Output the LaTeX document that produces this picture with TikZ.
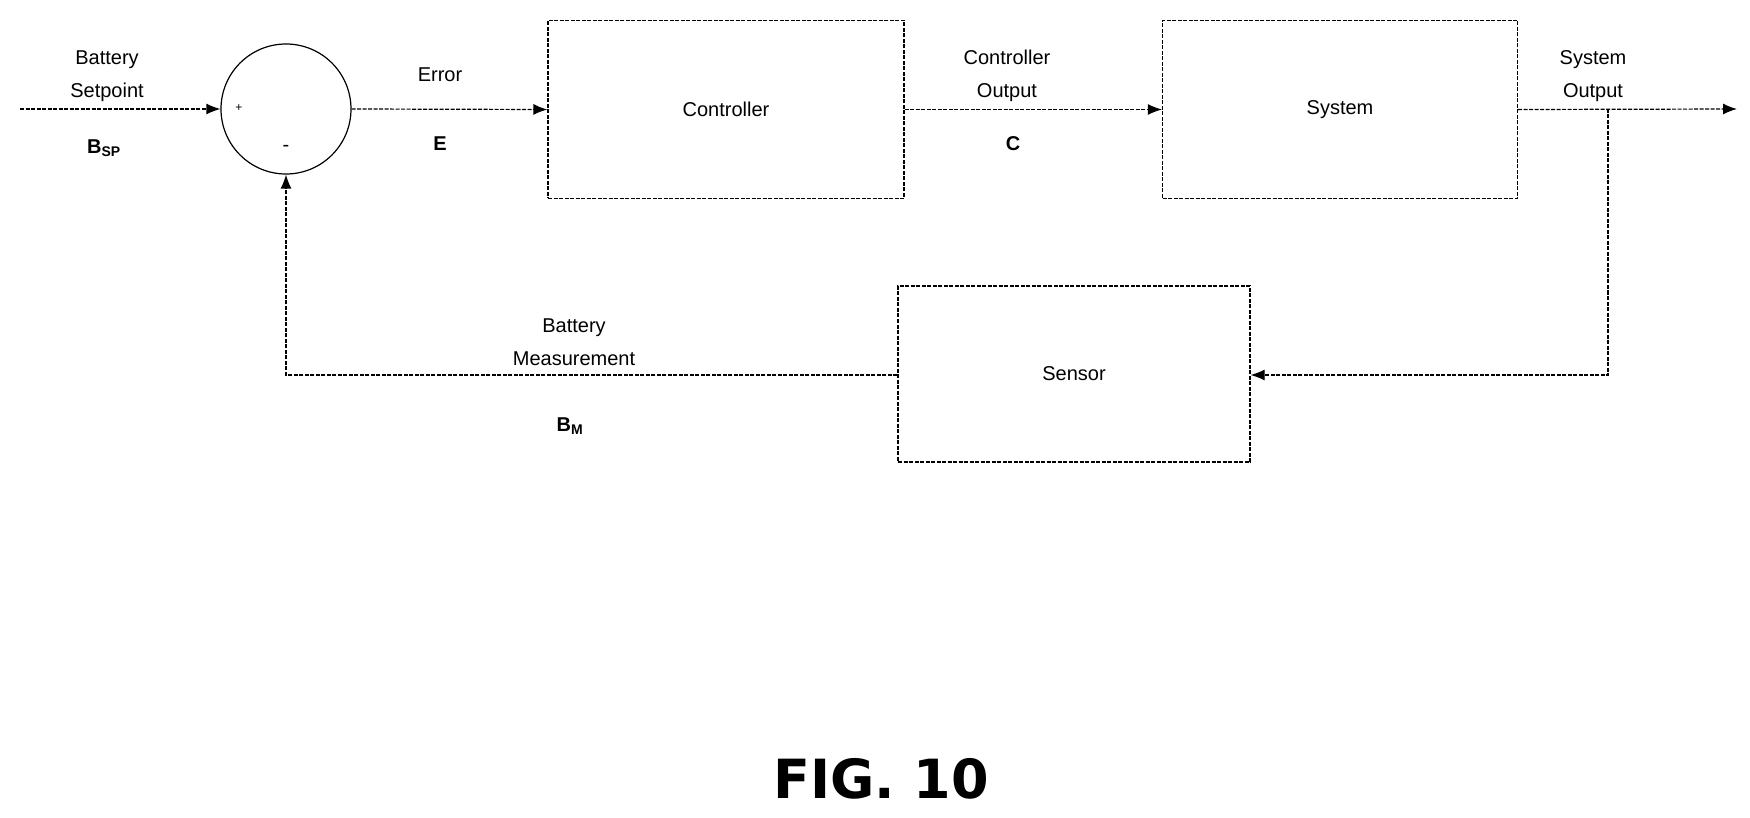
\documentclass[tikz,border=0pt]{standalone}
\usepackage{fontspec}
\setmainfont{Liberation Sans}
\newfontfamily\figfont{DejaVu Sans}
\usetikzlibrary{arrows.meta}
\begin{document}
\begin{tikzpicture}[x=1pt,y=-1pt,
  ln/.style={line width=1.2pt,dash pattern=on 4pt off 1.5pt},
  blk/.style={draw,ln,lb},
  ar/.style={ln,-{Latex[length=14pt,width=11pt]}},
  lb/.style={font=\fontsize{20}{33}\selectfont,align=center},
  sub/.style={font=\bfseries\fontsize{20}{24}\selectfont}]
\useasboundingbox (0,0) rectangle (1750,818);
\node[circle,draw,line width=1.2pt,minimum size=130pt,inner sep=0] (sum) at (286,109) {};
\node[blk,minimum width=356pt,minimum height=178pt] (ctrl) at (726,109.5) {Controller};
\node[blk,minimum width=355pt,minimum height=178pt] (sys) at (1340,109.5) {System};
\node[blk,minimum width=352pt,minimum height=176pt] (sen) at (1074,374) {Sensor};
\coordinate (in) at (20,109);
\coordinate (out) at (1737,109);
\coordinate (br) at (1608,109);
\coordinate (brd) at (1608,375);
\coordinate (fb) at (286,375);
\draw[ar] (in) -- (sum.west);
\draw[ar] (sum.east) -- (ctrl.west);
\draw[ar] (ctrl.east) -- (sys.west);
\draw[ar] (sys.east) -- (out);
\draw[ar] (br) -- (brd) -- (sen.east|-brd);
\draw[ar] (sen.west|-fb) -- (fb) -- (sum.south);
\node[lb] (plus) at (239,108) {\fontsize{12}{12}\selectfont +};
\node[lb] (minus) at (286,148) {-};
\node[lb] (bs) at (107,76) {Battery\\Setpoint};
\node[sub] (bsp) at (104,148) {B\textsubscript{SP}};
\node[lb] (err) at (440,75) {Error};
\node[sub] (e) at (440,144) {E};
\node[lb] (co) at (1007,76) {Controller\\Output};
\node[sub] (c) at (1013,144) {C};
\node[lb] (so) at (1593,76) {System\\Output};
\node[lb] (bm) at (574,342) {Battery\\Measurement};
\node[sub] (bmm) at (570,426) {B\textsubscript{M}};
\node[font=\figfont\bfseries\fontsize{54}{60}\selectfont] (fig) at (881,779) {FIG. 10};
\end{tikzpicture}
\end{document}
